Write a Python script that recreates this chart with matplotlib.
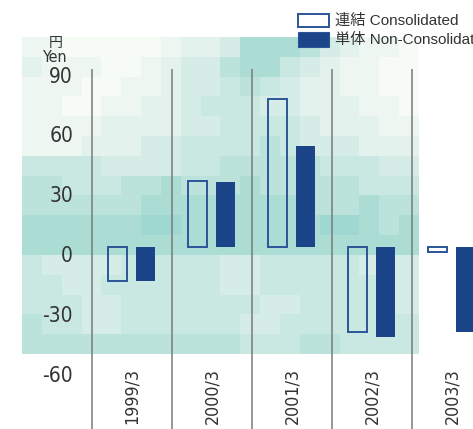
import matplotlib
matplotlib.use("Agg")
import matplotlib.pyplot as plt
import numpy as np
from matplotlib.colors import LinearSegmentedColormap
from matplotlib.patches import Rectangle
from matplotlib.font_manager import fontManager

categories = ["1999/3", "2000/3", "2001/3", "2002/3", "2003/3"]
consolidated = [-17.2, 33.3, 74.3, -42.5, -2.6]
non_consolidated = [-16.9, 32.6, 50.7, -45.0, -42.5]
y_ticks = [90, 60, 30, 0, -30, -60]
legend_labels = ["連結 Consolidated", "単体 Non-Consolidated"]

# background mosaic shade levels (0 light .. 7 teal)
bg_rows = [
    "11000001223666532110",
    "21110012335664321100",
    "11100112334543221100",
    "11001122344433222110",
    "11112222334444322211",
    "11122233444454333222",
    "44443333445555544433",
    "55444556555655555444",
    "55555566666666555655",
    "66666677666666677656",
    "66666666666666666666",
    "43333444443344444333",
    "44334444443344444433",
    "44433444444433444433",
    "54433444444334444444",
    "55555555555444554444",
]

# pick a condensed sans if available
cands = [("Liberation Sans Narrow", None), ("DejaVu Sans", "condensed"),
         ("Roboto Condensed", None), ("Open Sans Condensed", None),
         ("Noto Sans", "condensed"), ("Open Sans", "condensed"),
         ("Roboto", "condensed"), ("Noto Sans", "semi-condensed"),
         ("DejaVu Sans", "semi-condensed")]
entries = [(f.name, str(f.stretch)) for f in fontManager.ttflist]
num_font, num_stretch, condensed = "Liberation Sans", "normal", False
for nm, st in cands:
    if any(e[0] == nm and (st is None or e[1] == st) for e in entries):
        num_font, num_stretch, condensed = nm, (st or "normal"), True
        break
num_kw = dict(family=num_font, fontstretch=num_stretch)
tick_fs = 12.8 if condensed else 12

W, H, DPI = 473, 429, 100
fig = plt.figure(figsize=(W / DPI, H / DPI), dpi=DPI)

px_left, px_right, px_top, px_bottom = 22, 473, 37, 429
ax = fig.add_axes([px_left / W, 0, (px_right - px_left) / W, (px_bottom - px_top) / H])
ppu = 1.993           # pixels per unit
zero_px = 247
cat0_px, cat_step = 132, 80
ax.set_xlim((px_left - cat0_px) / cat_step, (px_right - cat0_px) / cat_step)
ax.set_ylim((zero_px - px_bottom) / ppu, (zero_px - px_top) / ppu)
ax.axis("off")

levels = np.array([[int(c) for c in r] for r in bg_rows], dtype=float)
cmap = LinearSegmentedColormap.from_list("bg", ["#f7fbf5", "#e0f1ec", "#c0e5dd", "#9fd8d0"])
bx0 = (22 - cat0_px) / cat_step
bx1 = (419 - cat0_px) / cat_step
by0 = (zero_px - 354) / ppu
by1 = (zero_px - 37) / ppu
ax.imshow(levels, cmap=cmap, vmin=0, vmax=7, extent=[bx0, bx1, by0, by1],
          aspect="auto", interpolation="nearest", zorder=0)

x = np.arange(len(categories))
ax.vlines(x - 0.5, (zero_px - px_bottom) / ppu, (zero_px - 69) / ppu,
          color="#7a7a7a", lw=1.1, zorder=2)

navy = "#1c4589"
w = 19 / cat_step
ax.bar(x - 14.2 / cat_step, consolidated, width=w, facecolor="none",
       edgecolor="#2b5597", lw=1.4, zorder=3)
ax.bar(x + 13.2 / cat_step, non_consolidated, width=w, color=navy, lw=0, zorder=3)

lab_x = (73 - cat0_px) / cat_step
for v in y_ticks:
    ax.text(lab_x, v - 9 / ppu, str(v), ha="right", va="center",
            fontsize=15, color="#333333", zorder=4, **num_kw)

for i, c in enumerate(categories):
    ax.text(i, (zero_px - 368) / ppu, c, rotation=90, ha="center", va="top",
            fontsize=tick_fs, color="#333333", zorder=4, **num_kw)

fig.text(56 / W, 1 - 43 / H, "円", ha="center", va="center", fontsize=10,
         family=["Noto Sans CJK JP", "DejaVu Sans"], color="#333333")
fig.text(55.7 / W, 1 - 58 / H, "Yen", ha="center", va="center", fontsize=11.5,
         color="#333333", **num_kw)

fig.add_artist(Rectangle((298 / W, 1 - 27.3 / H), 31 / W, 13.5 / H,
                         transform=fig.transFigure, facecolor="white",
                         edgecolor="#2b5597", lw=1.4))
fig.add_artist(Rectangle((298 / W, 1 - 46.7 / H), 31 / W, 14.4 / H,
                         transform=fig.transFigure, facecolor=navy,
                         edgecolor="#2b5597", lw=0.8))
for j, lab in enumerate(legend_labels):
    fig.text(335 / W, 1 - (20.5 + 19.5 * j) / H, lab, ha="left", va="center",
             fontsize=11, family=["Liberation Sans", "Noto Sans CJK JP"],
             color="#333333")

fig.savefig("out.png", dpi=DPI)
